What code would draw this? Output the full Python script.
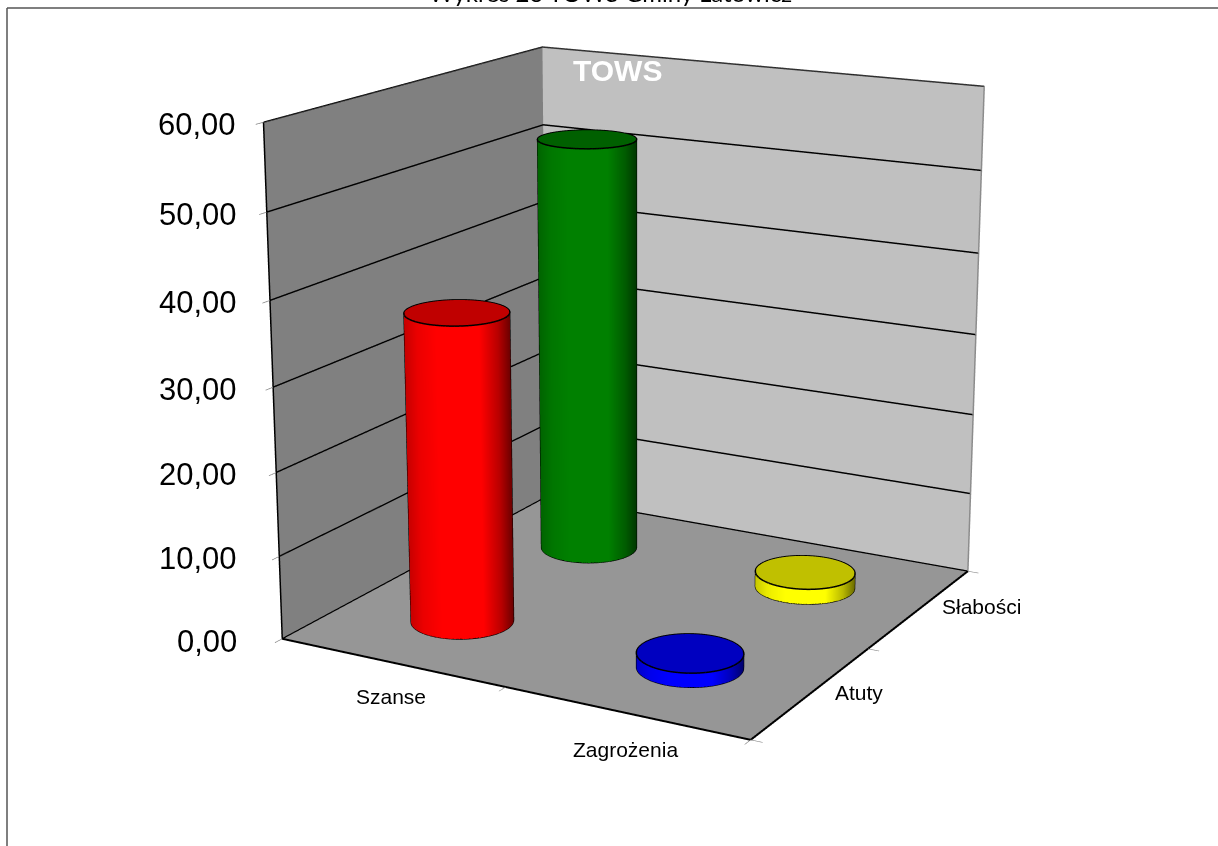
import numpy as np, plotly.graph_objects as go

# ---- data ----
categories = ["Szanse", "Zagrożenia"]
series_names = ["Atuty", "Słabości"]
atuty = [37.1, 1.7]
slabosci = [52.0, 1.9]
z_ticks = [0, 10, 20, 30, 40, 50, 60]
title_text = "Wykres 23 TOWS Gminy Łatowicz"
chart_title = "TOWS"

# ---- view / layout ----
EYE = np.array([2.4936, -4.5083, 1.4256])
FIG_W, FIG_H = 1273, 2298     # long lens: plotly's fixed 45 deg needs a large viewport
OFF_X, OFF_Y = 0, -789        # page offset of that viewport
RADIUS = 0.2                  # in category units
ZMAX = 60
side_cols = [(255, 0, 0), (0, 0, 255)], [(0, 128, 0), (255, 255, 0)]
top_cols = [(192, 0, 0), (0, 0, 192)], [(0, 96, 0), (192, 192, 0)]
shade = [(0, .78), (.12, .92), (.30, 1), (.70, 1), (.88, .72), (1, .42)]

def px(x): return (x - OFF_X) / FIG_W
def py(y): return 1 - (y - OFF_Y) / FIG_H
def rgb(c, s=1): return "rgb(%d,%d,%d)" % tuple(round(v * s) for v in c)

fig = go.Figure()

def cylinder(ix, iy, value, side, top):
    cx, cy = ix + .5, iy + .5
    wx, wy = (cx - 1) / 2, (cy - 1) / 2
    phi = np.arctan2(EYE[1] - wy, EYE[0] - wx)
    t = np.linspace(-np.pi / 2, np.pi / 2, 91)
    X = cx + RADIUS * np.cos(phi + t)
    Y = cy + RADIUS * np.sin(phi + t)
    scale = [[s, rgb(side, k)] for s, k in shade]
    light = dict(ambient=1, diffuse=0, specular=0, fresnel=0, roughness=1)
    u = (np.sin(t) + 1) / 2
    fig.add_trace(go.Surface(x=np.array([X, X]), y=np.array([Y, Y]), z=np.array([0 * t, 0 * t + value]),
                             surfacecolor=np.array([u, u]), cmin=0, cmax=1, colorscale=scale, showscale=False,
                             lighting=light, hoverinfo="skip"))
    a = np.linspace(0, 2 * np.pi, 121)
    r = np.array([0, 1.0])
    XT = cx + RADIUS * np.outer(r, np.cos(a))
    YT = cy + RADIUS * np.outer(r, np.sin(a))
    fig.add_trace(go.Surface(x=XT, y=YT, z=np.full(XT.shape, value), surfacecolor=np.zeros(XT.shape),
                             cmin=0, cmax=1, colorscale=[[0, rgb(top)], [1, rgb(top)]], showscale=False,
                             lighting=light, hoverinfo="skip"))
    line = dict(color="#000000", width=3)
    fig.add_trace(go.Scatter3d(x=XT[1], y=YT[1], z=0 * a + value + .02, mode="lines", line=line, hoverinfo="skip"))
    fig.add_trace(go.Scatter3d(x=np.concatenate([[X[0]], X, [X[-1]]]), y=np.concatenate([[Y[0]], Y, [Y[-1]]]),
                               z=np.concatenate([[value], 0 * t + .04, [value]]), mode="lines",
                               line=dict(color="#000000", width=2), hoverinfo="skip"))

rows = [atuty, slabosci]
for iy in (1, 0):
    for ix in range(2):
        cylinder(ix, iy, rows[iy][ix], side_cols[iy][ix], top_cols[iy][ix])

edges = [([0, 2], [0, 0], [0, 0], "#000000", 4), ([2, 2], [0, 2], [0, 0], "#000000", 4),
         ([0, 0], [0, 0], [0, ZMAX], "#000000", 3), ([0, 0], [0, 2], [ZMAX, ZMAX], "#444444", 2),
         ([0, 2], [2, 2], [ZMAX, ZMAX], "#333333", 3), ([2, 2], [2, 2], [0, ZMAX], "#8c8c8c", 3)]
for ex, ey, ez, col, w in edges:
    fig.add_trace(go.Scatter3d(x=ex, y=ey, z=ez, mode="lines", line=dict(color=col, width=w), hoverinfo="skip"))

notes = []
for z in z_ticks:
    notes.append(dict(x=0, y=0, z=z, text=f"{z:.2f}".replace(".", ","), showarrow=False, xanchor="right", yanchor="middle",
                      xshift=-25 - 18 * (ZMAX - z) / ZMAX, yshift=-2.5, font=dict(family="Liberation Sans", size=31, color="#000000")))
cat_font = dict(family="Liberation Sans", size=21, color="#000000")
for (cx, txt, xs, ys) in [(.5, categories[0], 0, -34), (1.5, categories[1], 0, -37)]:
    notes.append(dict(x=cx, y=0, z=0, text=txt, showarrow=False, xshift=xs, yshift=ys, font=cat_font))
for (cy, txt, xs, ys) in [(.5, series_names[0], 47, 0), (1.5, series_names[1], 62, 2)]:
    notes.append(dict(x=2, y=cy, z=0, text=txt, showarrow=False, xshift=xs, yshift=ys, font=cat_font))

ax_common = dict(title=dict(text=""), showticklabels=False, showspikes=False, zeroline=False, showline=False,
                 ticks="outside", ticklen=10, tickcolor="#808080", tickwidth=1.5, showbackground=True)
fig.update_layout(
    width=FIG_W, height=FIG_H, margin=dict(l=0, r=0, t=0, b=0), autosize=False,
    paper_bgcolor="#ffffff", showlegend=False, hovermode=False, dragmode=False,
    scene=dict(domain=dict(x=[0, 1], y=[0, 1]), aspectmode="manual", aspectratio=dict(x=1, y=0.9867, z=0.9995), dragmode=False,
               camera=dict(eye=dict(x=EYE[0], y=EYE[1], z=EYE[2]), center=dict(x=0, y=0, z=0), up=dict(x=0, y=0, z=1),
                           projection=dict(type="perspective")),
               xaxis=dict(ax_common, range=[0, 2], tickmode="array", tickvals=[0, 1, 2], showgrid=False, backgroundcolor="#808080"),
               yaxis=dict(ax_common, range=[0, 2], tickmode="array", tickvals=[0, 1, 2], showgrid=False, backgroundcolor="#c0c0c0"),
               zaxis=dict(ax_common, range=[0, ZMAX], tickmode="array", tickvals=z_ticks, showgrid=True, gridcolor="#000000", gridwidth=3, backgroundcolor="#969696"),
               annotations=notes),
    shapes=[dict(type="line", xref="paper", yref="paper", x0=px(7), x1=px(1218), y0=py(8), y1=py(8), line=dict(color="#555555", width=1.5)),
            dict(type="line", xref="paper", yref="paper", x0=px(7), x1=px(7), y0=py(8), y1=py(846), line=dict(color="#555555", width=1.5))],
    annotations=[dict(xref="paper", yref="paper", x=px(610), y=py(9), text=title_text, showarrow=False, yanchor="bottom",
                      font=dict(family="Lato", size=24, color="#000000")),
                 dict(xref="paper", yref="paper", x=px(617), y=py(71), text=chart_title, showarrow=False, yanchor="middle",
                      font=dict(family="Liberation Sans", size=30, color="#ffffff", weight="bold"))],
)
post = ("var g=document.getElementsByClassName('plotly-graph-div')[0];"
        "document.documentElement.style.overflow='hidden';document.body.style.overflow='hidden';document.body.style.margin=0;"
        f"g.style.position='fixed';g.style.left='{OFF_X}px';g.style.top='{OFF_Y}px';")
fig.write_html("out.html", post_script=post, config=dict(displayModeBar=False))
